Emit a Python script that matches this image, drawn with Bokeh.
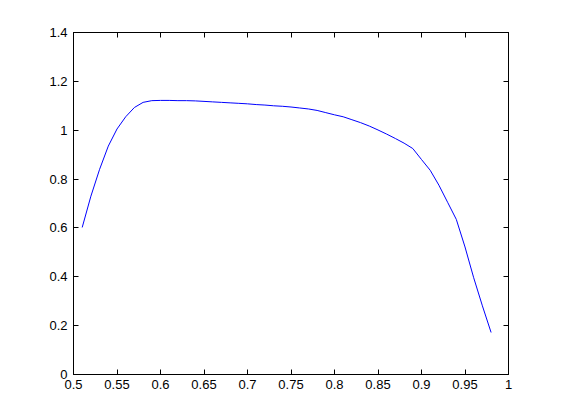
from bokeh.plotting import figure
from bokeh.models import Range1d, LinearAxis, FixedTicker
from bokeh.embed import file_html
from bokeh.resources import INLINE

x_vals = [0.51, 0.52, 0.53, 0.54, 0.55, 0.56, 0.57, 0.58, 0.59, 0.60,
          0.61, 0.62, 0.63, 0.64, 0.65, 0.66, 0.67, 0.68, 0.69, 0.70,
          0.71, 0.72, 0.73, 0.74, 0.75, 0.76, 0.77, 0.78, 0.79, 0.80,
          0.81, 0.82, 0.83, 0.84, 0.85, 0.86, 0.87, 0.88, 0.89, 0.90,
          0.91, 0.92, 0.93, 0.94, 0.95, 0.96, 0.97, 0.98]
y_vals = [0.602, 0.73, 0.84, 0.935, 1.005, 1.055, 1.093, 1.114, 1.121, 1.122,
          1.122, 1.121, 1.121, 1.120, 1.118, 1.116, 1.114, 1.112, 1.110, 1.108,
          1.105, 1.103, 1.100, 1.098, 1.095, 1.091, 1.087, 1.081, 1.072, 1.063,
          1.055, 1.043, 1.031, 1.017, 1.001, 0.984, 0.966, 0.947, 0.925, 0.880,
          0.836, 0.775, 0.705, 0.635, 0.522, 0.396, 0.281, 0.172]

x_ticks = [0.5, 0.55, 0.6, 0.65, 0.7, 0.75, 0.8, 0.85, 0.9, 0.95, 1.0]
x_tick_labels = ["0.5", "0.55", "0.6", "0.65", "0.7", "0.75", "0.8", "0.85", "0.9", "0.95", "1"]
y_ticks = [0, 0.2, 0.4, 0.6, 0.8, 1.0, 1.2, 1.4]
y_tick_labels = ["0", "0.2", "0.4", "0.6", "0.8", "1", "1.2", "1.4"]

W, H = 545, 404
p = figure(width=W, height=H, output_backend="svg", toolbar_location=None,
           x_range=Range1d(0.5, 1.0), y_range=Range1d(0, 1.4),
           min_border_left=73, min_border_right=37, min_border_top=32, min_border_bottom=30)
p.background_fill_color = "white"
p.border_fill_color = "white"
p.outline_line_color = "black"
p.outline_line_width = 1
p.grid.visible = False

p.line(x_vals, y_vals, line_color="#0000ff", line_width=1)

FONT = "Liberation Sans"

def style(ax, ticks, labels, show):
    ax.ticker = FixedTicker(ticks=ticks)
    if show:
        ax.major_label_overrides = {t: l for t, l in zip(ticks, labels)}
    else:
        ax.major_label_overrides = {t: "" for t in ticks}
    ax.major_tick_in = 5
    ax.major_tick_out = 0
    ax.minor_tick_line_color = None
    ax.axis_line_color = "black"
    ax.major_tick_line_color = "black"
    ax.major_label_text_font = FONT
    ax.major_label_text_font_size = "13px"
    ax.major_label_text_color = "black"

style(p.xaxis[0], x_ticks, x_tick_labels, True)
p.xaxis[0].major_label_standoff = 5
style(p.yaxis[0], y_ticks, y_tick_labels, True)
p.yaxis[0].major_label_standoff = 6

top = LinearAxis()
style(top, x_ticks, x_tick_labels, False)
top.major_label_standoff = 0
p.add_layout(top, "above")
right = LinearAxis()
style(right, y_ticks, y_tick_labels, False)
right.major_label_standoff = 0
p.add_layout(right, "right")

open("out.html", "w").write(file_html(p, INLINE))
